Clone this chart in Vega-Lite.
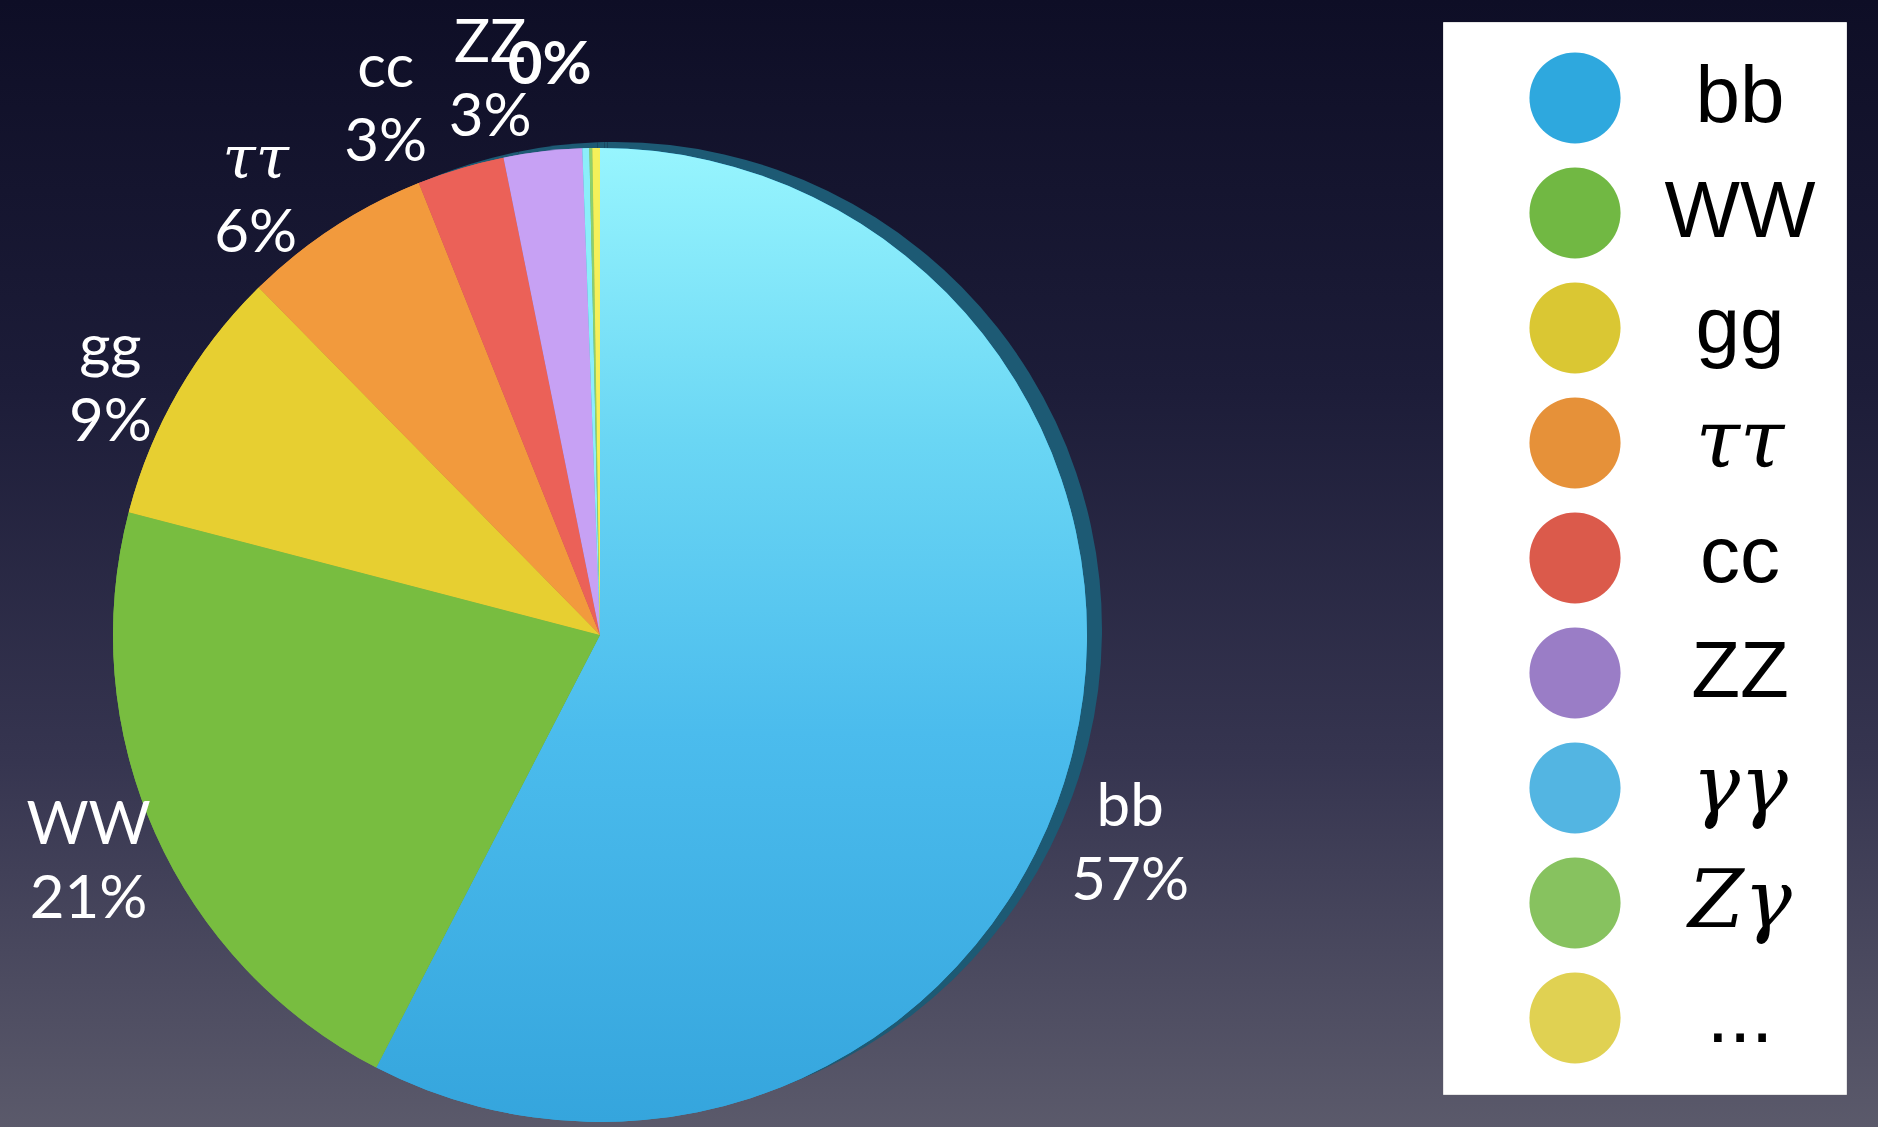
{
  "$schema": "https://vega.github.io/schema/vega-lite/v6.json",
  "width": 2556,
  "height": 1270,
  "autosize": {"type": "none"},
  "padding": {"left": -678, "top": 0, "right": 0, "bottom": -143},
  "background": "#101028",
  "view": {
    "stroke": null,
    "fill": {
      "gradient": "linear", "x1": 0, "y1": 0, "x2": 0, "y2": 1,
      "stops": [
        {"offset": 0, "color": "#0e0e26"},
        {"offset": 0.3, "color": "#1c1c38"},
        {"offset": 0.6, "color": "#363550"},
        {"offset": 0.89, "color": "#5b5a6b"},
        {"offset": 1, "color": "#605f6f"}
      ]
    }
  },
  "data": {
    "values": [
      {"name": "bb", "lab": "bb", "pct": "57%", "value": 57.7, "idx": 1},
      {"name": "WW", "lab": "WW", "pct": "21%", "value": 21.5, "idx": 2},
      {"name": "gg", "lab": "gg", "pct": "9%", "value": 8.6, "idx": 3},
      {"name": "ττ", "lab": "ττ", "pct": "6%", "value": 6.3, "idx": 4},
      {"name": "cc", "lab": "cc", "pct": "3%", "value": 2.9, "idx": 5},
      {"name": "ZZ", "lab": "ZZ", "pct": "3%", "value": 2.6, "idx": 6},
      {"name": "γγ", "lab": "", "pct": "0%", "value": 0.23, "idx": 7},
      {"name": "Zγ", "lab": "", "pct": "", "value": 0.1, "idx": 8},
      {"name": "...", "lab": "", "pct": "", "value": 0.25, "idx": 9}
    ]
  },
  "encoding": {
    "theta": {"field": "value", "type": "quantitative", "stack": true},
    "order": {"field": "idx", "type": "quantitative"}
  },
  "layer": [
    {
      "mark": {"type": "arc", "outerRadius": 487, "xOffset": 15, "yOffset": -6, "color": "#1d5a74"}
    },
    {
      "mark": {"type": "arc", "outerRadius": 487},
      "encoding": {
        "fill": {
          "field": "name", "type": "nominal",
          "scale": {
            "domain": ["bb", "WW", "gg", "ττ", "cc", "ZZ", "γγ", "Zγ", "..."],
            "range": ["#2ea8de", "#71b843", "#dac733", "#e69139", "#db5a4b", "#9a7dc6", "#53b5e2", "#87c25f", "#e0d152"]
          },
          "legend": {
            "orient": "none", "legendX": 2121, "legendY": 22, "title": null,
            "fillColor": "white", "strokeColor": "#e6e6e6",
            "padding": 30, "symbolOffset": 56,
            "symbolType": "circle", "symbolSize": 8300, "symbolStrokeWidth": 0, "symbolOpacity": 1,
            "labelFont": "Liberation Sans", "labelFontSize": 80, "labelColor": "black",
            "labelAlign": "center", "labelOffset": 119, "rowPadding": 23, "labelLimit": 0,
            "encode": {
              "labels": {
                "update": {
                  "fontStyle": {"signal": "indexof(['ττ','γγ','Zγ'], datum.label) >= 0 ? 'italic' : 'normal'"},
                  "font": {"signal": "indexof(['ττ','γγ','Zγ'], datum.label) >= 0 ? 'DejaVu Serif' : 'Liberation Sans'"}
                }
              }
            }
          }
        }
      }
    },
    {
      "mark": {"type": "arc", "outerRadius": 487, "stroke": null},
      "encoding": {
        "color": {
          "condition": {
            "test": "datum.name === 'bb'",
            "value": {
              "gradient": "linear", "x1": 0, "y1": 0, "x2": 0, "y2": 1,
              "stops": [
                {"offset": 0, "color": "#97f5fe"},
                {"offset": 0.3, "color": "#6ad6f4"},
                {"offset": 0.6, "color": "#4bbced"},
                {"offset": 1, "color": "#35a5dd"}
              ]
            }
          },
          "field": "name", "type": "nominal",
          "scale": {
            "domain": ["bb", "WW", "gg", "ττ", "cc", "ZZ", "γγ", "Zγ", "..."],
            "range": ["#4bbced", "#78bd40", "#e7cf31", "#f29a3d", "#eb6158", "#c7a1f4", "#8beefa", "#8fd06a", "#f5f05a"]
          },
          "legend": null
        }
      }
    },
    {
      "mark": {
        "type": "text", "radius": 560, "fontSize": 60, "color": "white",
        "font": {"expr": "datum.lab === 'ττ' ? 'DejaVu Serif' : 'Lato'"},
        "fontStyle": {"expr": "datum.lab === 'ττ' ? 'italic' : 'normal'"},
        "dx": {"expr": "datum.idx == 1 ? -14 : datum.idx == 3 ? -5 : datum.idx == 4 ? -38 : datum.idx == 5 ? -54 : datum.idx == 6 ? -44 : datum.idx >= 7 ? -34 : 0"},
        "dy": {"expr": "-37 + (datum.idx == 1 ? 78 : datum.idx == 3 ? 32 : datum.idx == 4 ? 31 : datum.idx == 5 ? 8 : datum.idx == 6 ? 2 : 0)"}
      },
      "encoding": {"text": {"field": "lab"}}
    },
    {
      "mark": {
        "type": "text", "radius": 560, "font": "Lato", "fontSize": 60, "color": "white",
        "fontWeight": {"expr": "datum.idx >= 7 ? 'bold' : 'normal'"},
        "dx": {"expr": "datum.idx == 1 ? -14 : datum.idx == 3 ? -5 : datum.idx == 4 ? -38 : datum.idx == 5 ? -54 : datum.idx == 6 ? -44 : datum.idx >= 7 ? -34 : 0"},
        "dy": {"expr": "datum.idx >= 7 ? -9 : 37 + (datum.idx == 1 ? 78 : datum.idx == 3 ? 32 : datum.idx == 4 ? 31 : datum.idx == 5 ? 8 : datum.idx == 6 ? 2 : 0)"}
      },
      "encoding": {"text": {"field": "pct"}}
    }
  ]
}
